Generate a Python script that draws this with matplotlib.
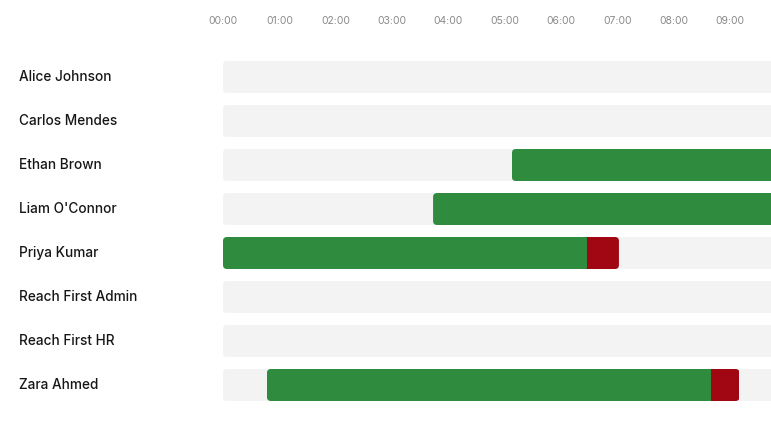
import matplotlib
matplotlib.use("Agg")
import matplotlib.pyplot as plt
from matplotlib.patches import FancyBboxPatch, Rectangle

names = ["Alice Johnson", "Carlos Mendes", "Ethan Brown", "Liam O'Connor",
         "Priya Kumar", "Reach First Admin", "Reach First HR", "Zara Ahmed"]
# hours since 00:00 (None = no activity)
green_start = [None, None, 5.13, 3.73, 0.0, None, None, 0.78]
green_end   = [None, None, 10.0, 10.0, 6.47, None, None, 8.67]
red_end     = [None, None, None, None, 7.03, None, None, 9.17]
tick_labels = ["00:00", "01:00", "02:00", "03:00", "04:00",
               "05:00", "06:00", "07:00", "08:00", "09:00"]

W, H, DPI = 771, 421, 100
fig = plt.figure(figsize=(W / DPI, H / DPI), dpi=DPI)
ax_l, ax_r, ax_t, ax_b = 223, 771, 55, 407
ax = fig.add_axes([ax_l / W, 1 - ax_b / H, (ax_r - ax_l) / W, (ax_b - ax_t) / H])
XMAX = 9.73
ax.set_xlim(0, XMAX)
ax.set_ylim(len(names) - 0.5, -0.5)
for s in ax.spines.values():
    s.set_visible(False)

px_x = XMAX / (ax_r - ax_l)
px_y = len(names) / (ax_b - ax_t)
aspect = px_y / px_x
bar_h = 32 * px_y
rnd = 4 * px_x

GREEN = "#2f8c3f"
RED = "#a10712"
TRACK = "#f3f3f3"

def rbox(x0, x1, y, color, z):
    p = FancyBboxPatch((x0, y - bar_h / 2), x1 - x0, bar_h,
                       boxstyle=f"round,pad=0,rounding_size={rnd}",
                       mutation_aspect=aspect, fc=color, ec="none", lw=0,
                       zorder=z)
    ax.add_patch(p)
    return p

for i, n in enumerate(names):
    rbox(0, XMAX + 1, i, TRACK, 1)
    if green_start[i] is not None:
        end = red_end[i] if red_end[i] is not None else green_end[i]
        clip = rbox(green_start[i], end, i, "none", 0)
        g = Rectangle((green_start[i], i - bar_h / 2), green_end[i] - green_start[i], bar_h,
                      fc=GREEN, ec="none", lw=0, zorder=2)
        ax.add_patch(g)
        g.set_clip_path(clip)
        if red_end[i] is not None:
            r = Rectangle((green_end[i], i - bar_h / 2), red_end[i] - green_end[i], bar_h,
                          fc=RED, ec="none", lw=0, zorder=3)
            ax.add_patch(r)
            r.set_clip_path(clip)
    fig.text(19 / W, 1 - (77 + 44 * i) / H, n, ha="left", va="center",
             fontsize=9.8, family="Inter", weight="medium", color="#161616")

ax.set_xticks(range(len(tick_labels)))
ax.set_xticklabels(tick_labels, fontsize=7.5, color="#8a8a8a", family="Inter")
ax.xaxis.tick_top()
ax.tick_params(axis="x", length=0, pad=21)
ax.set_yticks([])

fig.savefig("out.png", dpi=DPI, facecolor="white")
